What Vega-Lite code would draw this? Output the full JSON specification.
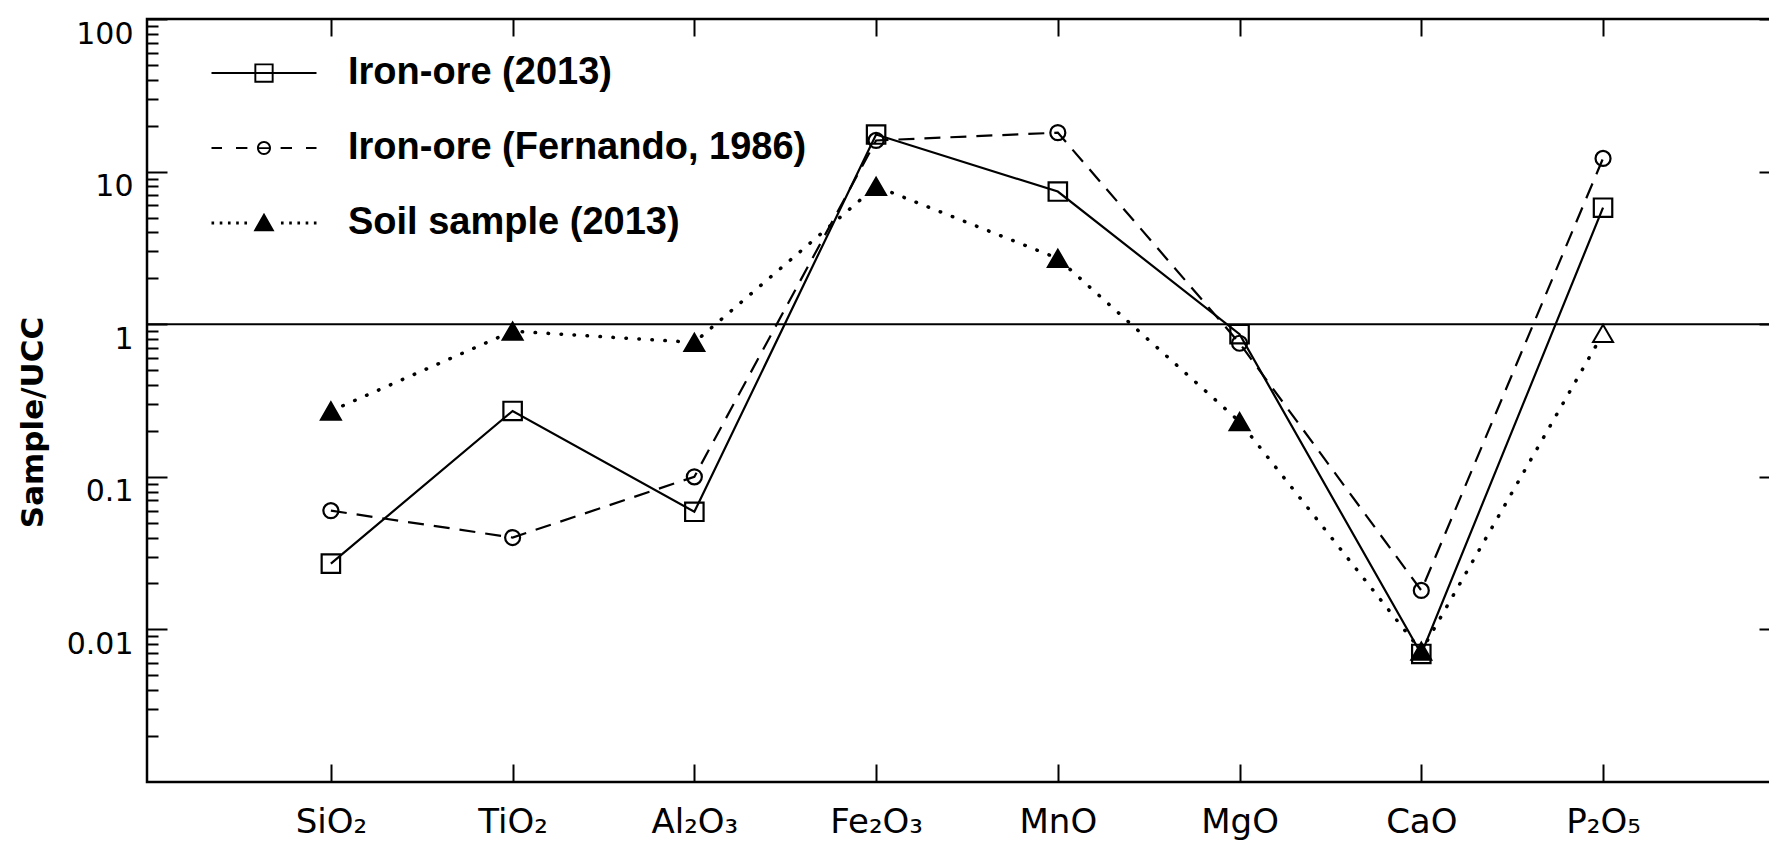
{
  "$schema": "https://vega.github.io/schema/vega-lite/v6.json",
  "width": 1632,
  "height": 763,
  "autosize": {"type": "none"},
  "padding": {"left": 147, "top": 19, "right": 0, "bottom": 65},
  "background": "white",
  "config": {
    "view": {"stroke": "black", "strokeWidth": 2.5},
    "axis": {"domain": false, "grid": false, "tickColor": "black", "tickWidth": 2, "labelColor": "black", "labelFont": "DejaVu Sans", "titleColor": "black"}
  },
  "data": {
    "values": [
      {"oxide": "SiO₂", "series": "Iron-ore (2013)", "value": 0.027},
      {"oxide": "TiO₂", "series": "Iron-ore (2013)", "value": 0.27},
      {"oxide": "Al₂O₃", "series": "Iron-ore (2013)", "value": 0.059},
      {"oxide": "Fe₂O₃", "series": "Iron-ore (2013)", "value": 17.5},
      {"oxide": "MnO", "series": "Iron-ore (2013)", "value": 7.4},
      {"oxide": "MgO", "series": "Iron-ore (2013)", "value": 0.86},
      {"oxide": "CaO", "series": "Iron-ore (2013)", "value": 0.0069},
      {"oxide": "P₂O₅", "series": "Iron-ore (2013)", "value": 5.8},
      {"oxide": "SiO₂", "series": "Iron-ore (Fernando, 1986)", "value": 0.06},
      {"oxide": "TiO₂", "series": "Iron-ore (Fernando, 1986)", "value": 0.04},
      {"oxide": "Al₂O₃", "series": "Iron-ore (Fernando, 1986)", "value": 0.1},
      {"oxide": "Fe₂O₃", "series": "Iron-ore (Fernando, 1986)", "value": 16},
      {"oxide": "MnO", "series": "Iron-ore (Fernando, 1986)", "value": 18},
      {"oxide": "MgO", "series": "Iron-ore (Fernando, 1986)", "value": 0.75},
      {"oxide": "CaO", "series": "Iron-ore (Fernando, 1986)", "value": 0.018},
      {"oxide": "P₂O₅", "series": "Iron-ore (Fernando, 1986)", "value": 12.2},
      {"oxide": "SiO₂", "series": "Soil sample (2013)", "value": 0.27},
      {"oxide": "TiO₂", "series": "Soil sample (2013)", "value": 0.9},
      {"oxide": "Al₂O₃", "series": "Soil sample (2013)", "value": 0.76},
      {"oxide": "Fe₂O₃", "series": "Soil sample (2013)", "value": 8.0},
      {"oxide": "MnO", "series": "Soil sample (2013)", "value": 2.7},
      {"oxide": "MgO", "series": "Soil sample (2013)", "value": 0.23},
      {"oxide": "CaO", "series": "Soil sample (2013)", "value": 0.0072},
      {"oxide": "P₂O₅", "series": "Soil sample (2013)", "value": 0.87}
    ]
  },
  "layer": [
    {
      "data": {"values": [{}]},
      "mark": {"type": "rule", "color": "black", "strokeWidth": 2},
      "encoding": {
        "y": {"datum": 1, "type": "quantitative", "scale": {"type": "log", "domain": [0.001, 100], "nice": false}, "axis": null}
      }
    },
    {
      "transform": [{"filter": "datum.series == 'Iron-ore (2013)'"}],
      "mark": {"type": "line", "color": "black", "strokeWidth": 2.2},
      "encoding": {
        "x": {"field": "oxide", "type": "ordinal", "sort": null,
          "scale": {"type": "point", "padding": 0.99, "align": 0.511, "domain": ["SiO₂","TiO₂","Al₂O₃","Fe₂O₃","MnO","MgO","CaO","P₂O₅"]},
          "axis": {"orient": "bottom", "tickSize": -18, "labelPadding": 41, "labelFontSize": 34, "labelAngle": 0, "title": null, "labelFont": "DejaVu Sans"}},
        "y": {"field": "value", "type": "quantitative", "scale": {"type": "log", "domain": [0.001, 100], "nice": false},
          "axis": {"orient": "left", "values": [0.01, 0.1, 1, 10, 100], "format": "~g", "tickSize": -20, "labelPadding": 34, "labelFontSize": 30, "labelBaseline": "top",
            "title": "Sample/UCC", "titleFont": "DejaVu Sans", "titleFontWeight": "bold", "titleFontSize": 31, "titleX": -114, "titleY": 403, "titleAlign": "center", "titleBaseline": "middle", "titleAngle": 270}}
      }
    },
    {
      "transform": [{"filter": "datum.series == 'Iron-ore (Fernando, 1986)'"}],
      "mark": {"type": "line", "color": "black", "strokeWidth": 2.2, "strokeDash": [16, 10]},
      "encoding": {
        "x": {"field": "oxide", "type": "ordinal", "sort": null,
          "scale": {"type": "point", "padding": 0.99, "align": 0.511, "domain": ["SiO₂","TiO₂","Al₂O₃","Fe₂O₃","MnO","MgO","CaO","P₂O₅"]},
          "axis": {"orient": "top", "tickSize": -17, "labels": false, "title": null}},
        "y": {"field": "value", "type": "quantitative", "scale": {"type": "log", "domain": [0.001, 100], "nice": false},
          "axis": {"orient": "left", "values": [0.002,0.003,0.004,0.005,0.006,0.007,0.008,0.009,0.02,0.03,0.04,0.05,0.06,0.07,0.08,0.09,0.2,0.3,0.4,0.5,0.6,0.7,0.8,0.9,2,3,4,5,6,7,8,9,20,30,40,50,60,70,80,90], "labels": false, "tickSize": -11, "title": null}}
      }
    },
    {
      "transform": [{"filter": "datum.series == 'Soil sample (2013)'"}],
      "mark": {"type": "line", "color": "black", "strokeWidth": 3.5, "strokeDash": [0.5, 12.5], "strokeCap": "round"},
      "encoding": {
        "x": {"field": "oxide", "type": "ordinal", "sort": null,
          "scale": {"type": "point", "padding": 0.99, "align": 0.511, "domain": ["SiO₂","TiO₂","Al₂O₃","Fe₂O₃","MnO","MgO","CaO","P₂O₅"]},
          "axis": null},
        "y": {"field": "value", "type": "quantitative", "scale": {"type": "log", "domain": [0.001, 100], "nice": false},
          "axis": {"orient": "right", "values": [0.01, 0.1, 1, 10, 100], "labels": false, "tickSize": -20, "title": null}}
      }
    },
    {
      "transform": [{"filter": "datum.series == 'Iron-ore (2013)'"}],
      "mark": {"type": "point", "shape": "square", "size": 340, "filled": false, "stroke": "black", "strokeWidth": 2.2, "opacity": 1},
      "encoding": {
        "x": {"field": "oxide", "type": "ordinal", "sort": null, "axis": null},
        "y": {"field": "value", "type": "quantitative", "axis": null}
      }
    },
    {
      "transform": [{"filter": "datum.series == 'Iron-ore (Fernando, 1986)'"}],
      "mark": {"type": "point", "shape": "circle", "size": 225, "filled": false, "stroke": "black", "strokeWidth": 2.2, "opacity": 1},
      "encoding": {
        "x": {"field": "oxide", "type": "ordinal", "sort": null, "axis": null},
        "y": {"field": "value", "type": "quantitative", "axis": null}
      }
    },
    {
      "transform": [{"filter": "datum.series == 'Soil sample (2013)'"}],
      "mark": {"type": "point", "shape": "triangle-up", "size": 400, "filled": true, "stroke": "black", "strokeWidth": 2, "opacity": 1},
      "encoding": {
        "x": {"field": "oxide", "type": "ordinal", "sort": null, "axis": null},
        "y": {"field": "value", "type": "quantitative", "axis": null},
        "fill": {"condition": {"test": "datum.oxide == 'P₂O₅'", "value": "white"}, "value": "black"}
      }
    },
    {
      "mark": {"type": "point", "filled": true, "color": "black", "strokeWidth": 0, "size": 0},
      "encoding": {
        "x": {"field": "oxide", "type": "ordinal", "sort": null, "axis": null},
        "y": {"field": "value", "type": "quantitative", "axis": null},
        "shape": {"field": "series", "type": "nominal",
          "scale": {"domain": ["Iron-ore (2013)", "Iron-ore (Fernando, 1986)", "Soil sample (2013)"],
            "range": [
              "M-3,-0.06H3V0.06H-3ZM-0.55,-0.55H0.55V0.55H-0.55ZM-0.44,-0.44V0.44H0.44V-0.44Z",
              "M-3,-0.06H-2.4V0.06H-3ZM-1.6,-0.06H-0.95V0.06H-1.6ZM0.95,-0.06H1.6V0.06H0.95ZM2.4,-0.06H3V0.06H2.4ZM-0.4,0A0.4,0.4 0 1,1 0.4,0A0.4,0.4 0 1,1 -0.4,0ZM-0.29,0A0.29,0.29 0 1,0 0.29,0A0.29,0.29 0 1,0 -0.29,0ZM-0.29,-0.05H0.29V0.05H-0.29Z",
              "M-3,-0.08H-2.85V0.08H-3ZM-2.53,-0.08H-2.38V0.08H-2.53ZM-2.06,-0.08H-1.91V0.08H-2.06ZM-1.59,-0.08H-1.44V0.08H-1.59ZM-1.12,-0.08H-0.97V0.08H-1.12ZM0.97,-0.08H1.12V0.08H0.97ZM1.44,-0.08H1.59V0.08H1.44ZM1.91,-0.08H2.06V0.08H1.91ZM2.38,-0.08H2.53V0.08H2.38ZM2.85,-0.08H3V0.08H2.85ZM0,-0.58L0.6,0.47L-0.6,0.47Z"
            ]},
          "legend": {"orient": "none", "legendX": 98, "legendY": 35, "title": null, "symbolSize": 1225, "labelFont": "Liberation Sans", "labelFontSize": 38, "labelFontWeight": "bold", "labelColor": "black", "labelOffset": 65, "rowPadding": 37, "labelLimit": 1000, "symbolStrokeWidth": 0, "symbolFillColor": "black", "symbolStrokeColor": "black", "symbolOpacity": 1, "padding": 0,
            "encode": {"symbols": {"fill": {"value": "black"}, "opacity": {"value": 1}, "fillOpacity": {"value": 1}}}}}
      }
    }
  ],
  "resolve": {"axis": {"x": "independent", "y": "independent"}}
}
